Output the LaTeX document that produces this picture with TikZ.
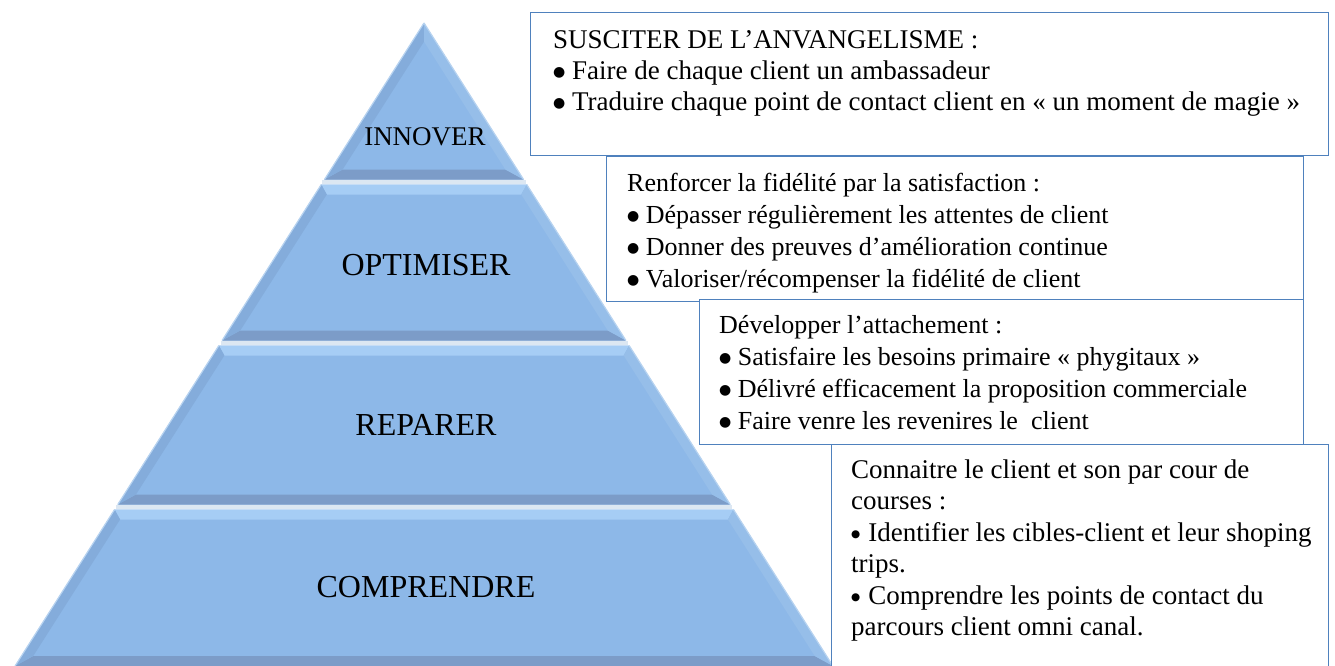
\documentclass[tikz,border=0pt]{standalone}
\usepackage{fontspec}
\setmainfont{Liberation Serif}
\newfontfamily\dotfont{DejaVu Sans}
\definecolor{tiermain}{HTML}{8DB8E8}
\definecolor{bevtop}{HTML}{A6CDF5}
\definecolor{bevbottom}{HTML}{7C9CC8}
\definecolor{bevleft}{HTML}{84ACDB}
\definecolor{bevright}{HTML}{96BEE9}
\definecolor{bevedge}{HTML}{B7D3F0}
\definecolor{tiergap}{HTML}{DCE7F2}
\definecolor{boxblue}{HTML}{4F81BD}

% large round list bullet
\newcommand\bigdot{\raisebox{2.5pt}{\dotfont\fontsize{14}{14}\selectfont ●}}
% smaller list bullet
\newcommand\smalldot{\raisebox{4pt}{\dotfont\fontsize{10.5}{10.5}\selectfont ●}}

% One bevelled band of the pyramid: #1 top y, #2 bottom y, #3 inner top y
\newcommand\pyrtier[3]{%
  \pgfmathsetmacro\pyA{0.636*(#1-23)}%
  \pgfmathsetmacro\pyB{0.636*(#2-23)}%
  \pgfmathsetmacro\pyT{#3}%
  \pgfmathsetmacro\pyU{#2-10}%
  \pgfmathsetmacro\pyC{max(0.636*(\pyT-23)-11.85,0)}%
  \pgfmathsetmacro\pyD{0.636*(\pyU-23)-11.85}%
  \coordinate (oTL) at (424-\pyA,#1);
  \coordinate (oTR) at (424+\pyA,#1);
  \coordinate (oBR) at (424+\pyB,#2);
  \coordinate (oBL) at (424-\pyB,#2);
  \coordinate (iTL) at (424-\pyC,\pyT);
  \coordinate (iTR) at (424+\pyC,\pyT);
  \coordinate (iBR) at (424+\pyD,\pyU);
  \coordinate (iBL) at (424-\pyD,\pyU);
  \fill[tiermain] (oTL) -- (oTR) -- (oBR) -- (oBL) -- cycle;
  \fill[bevtop] (oTL) -- (oTR) -- (iTR) -- (iTL) -- cycle;
  \fill[bevbottom] (iBL) -- (iBR) -- (oBR) -- (oBL) -- cycle;
  \fill[bevleft] (oTL) -- (iTL) -- (iBL) -- (oBL) -- cycle;
  \fill[bevright] (oTR) -- (iTR) -- (iBR) -- (oBR) -- cycle;
  \draw[bevedge, line width=1.2pt] (oTL) -- (oBL) (oTR) -- (oBR);
}

\begin{document}
\begin{tikzpicture}[x=1pt, y=-1pt,
  infobox/.style={draw=boxblue, line width=1.2pt, fill=white, rectangle,
    inner sep=0pt, anchor=north west},
  boxtext/.style={anchor=north west, inner sep=0pt, align=left,
    font=\fontsize{26}{32}\selectfont},
  toptext/.style={boxtext, font=\fontsize{27}{31}\selectfont},
  widetext/.style={boxtext, font=\fontsize{27}{31.5}\selectfont},
  tierlabel/.style={inner sep=0pt, font=\fontsize{32}{38}\selectfont},
  gapline/.style={draw=tiergap, line width=4pt}]
\useasboundingbox (0,0) rectangle (1335,666);
\clip (0,0) rectangle (1335,666);

% pyramid bands
\pyrtier{23}{179.5}{41.6}
\pyrtier{184.5}{340.5}{194.5}
\pyrtier{345.5}{504.5}{355.5}
\pyrtier{509.5}{666}{519.5}

% light gaps between bands
\draw[gapline] (321.9,182) -- (526.1,182);
\draw[gapline] (220.5,343) -- (627.5,343);
\draw[gapline] (116.2,507) -- (731.8,507);

% band labels
\node[tierlabel, font=\fontsize{27}{32}\selectfont] (innover) at (425,137) {INNOVER};
\node[tierlabel] (optimiser) at (426,265) {OPTIMISER};
\node[tierlabel] (reparer) at (426,425) {REPARER};
\node[tierlabel] (comprendre) at (426,587) {COMPRENDRE};

% text boxes
\node[infobox, minimum width=798pt, minimum height=143pt] (box1) at (530,12) {};
\node[infobox, minimum width=697pt, minimum height=145pt] (box2) at (606,156) {};
\node[infobox, minimum width=604pt, minimum height=145pt] (box3) at (699,299) {};
\node[infobox, minimum width=497pt, minimum height=240pt] (box4) at (831,444) {};

\node[toptext] (text1) at (553,24) {\rule{0pt}{24pt}SUSCITER DE L’ANVANGELISME :\\
  \bigdot\ Faire de chaque client un ambassadeur\\
  \bigdot\ Traduire chaque point de contact client en « un moment de magie »};
\node[boxtext] (text2) at (627,167) {\rule{0pt}{24pt}Renforcer la fidélité par la satisfaction :\\
  \bigdot\ Dépasser régulièrement les attentes de client\\
  \bigdot\ Donner des preuves d’amélioration continue\\
  \bigdot\ Valoriser/récompenser la fidélité de client};
\node[boxtext] (text3) at (719,309) {\rule{0pt}{24pt}Développer l’attachement :\\
  \bigdot\ Satisfaire les besoins primaire « phygitaux »\\
  \bigdot\ Délivré efficacement la proposition commerciale\\
  \bigdot\ Faire venre les revenires le\ \ client};
\node[widetext] (text4) at (851,454) {\rule{0pt}{24pt}Connaitre le client et son par cour de\\
  courses :\\
  \smalldot\hspace{0.3em}Identifier les cibles-client et leur shoping\\
  trips.\\
  \smalldot\hspace{0.3em}Comprendre les points de contact du\\
  parcours client omni canal.};
\end{tikzpicture}
\end{document}
